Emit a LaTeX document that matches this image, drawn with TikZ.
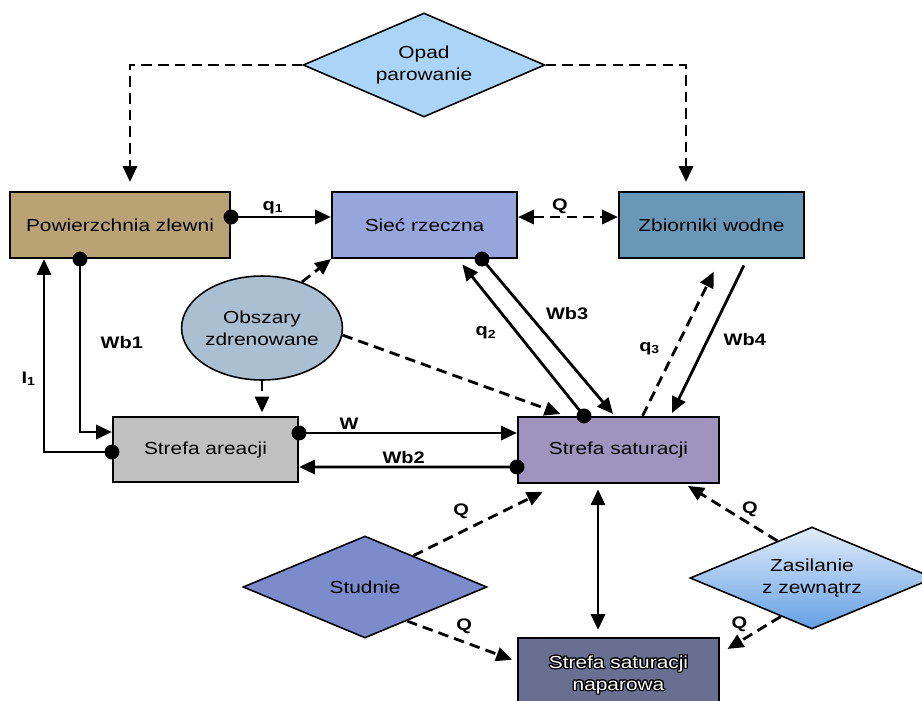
\documentclass[tikz,border=0pt]{standalone}
\usepackage{fontspec}
\setmainfont[FakeStretch=1.2]{Liberation Sans}
\usepackage{xcolor}
\usepackage{tikz}
\usepackage{contour}
\usetikzlibrary{positioning,arrows.meta,calc,shapes.geometric}
\definecolor{cPow}{RGB}{185,163,116}
\definecolor{cSiec}{RGB}{150,166,220}
\definecolor{cZb}{RGB}{104,151,184}
\definecolor{cArea}{RGB}{192,192,192}
\definecolor{cSat}{RGB}{158,148,190}
\definecolor{cNap}{RGB}{104,111,145}
\definecolor{cOpad}{RGB}{170,212,248}
\definecolor{cStud}{RGB}{124,139,204}
\definecolor{cObs}{RGB}{170,192,210}
\definecolor{cZasT}{RGB}{226,236,250}
\definecolor{cZasB}{RGB}{100,160,228}
\contourlength{0.7pt}
\tikzset{
  box/.style={rectangle, draw=black, line width=1.2pt, minimum height=1.32cm,
              align=center, inner sep=2pt, font=\fontsize{9.9}{12.5}\selectfont},
  src/.style={diamond, draw=black, line width=0.9pt, aspect=2.3, inner sep=0pt,
              minimum width=4.88cm, minimum height=2.04cm, align=center,
              font=\fontsize{9.9}{12.5}\selectfont},
  drain/.style={ellipse, draw=black, line width=0.9pt, fill=cObs, align=center,
                minimum width=2.84cm, minimum height=2.08cm, inner sep=0pt,
                font=\fontsize{9.9}{12.5}\selectfont},
  flow/.style={-{Triangle[length=9pt,width=8pt]}, line width=1.6pt},
  flowd/.style={flow, dash pattern=on 6pt off 3.5pt},
  biflow/.style={{Triangle[length=9pt,width=8pt]}-{Triangle[length=9pt,width=8pt]}, line width=1.6pt},
  biflowd/.style={biflow, dash pattern=on 6pt off 3.5pt},
  tap/.style={circle, fill=black, inner sep=0pt, minimum size=8.5pt},
  lbl/.style={font=\bfseries\fontsize{9.5}{11}\selectfont, inner sep=1pt},
}

\begin{document}
\begin{tikzpicture}[x=0.02cm, y=-0.02cm]
  \useasboundingbox (0,0) rectangle (922,700);
  % --- compartments ---
  \node[box, fill=cPow, minimum width=4.4cm]  (pow)  at (120,225)   {Powierzchnia zlewni};
  \node[box, fill=cSiec, minimum width=3.7cm] (siec) at (424.5,225) {Sieć rzeczna};
  \node[box, fill=cZb, minimum width=3.7cm]   (zb)   at (711.5,225) {Zbiorniki wodne};
  \node[box, fill=cArea, minimum width=3.7cm, minimum height=1.3cm] (area) at (205.5,449.5) {Strefa areacji};
  \node[box, fill=cSat, minimum width=4.02cm] (sat)  at (618.5,450) {Strefa saturacji};
  \node[box, fill=cNap, minimum width=4.02cm, minimum height=1.5cm, text=white] (nap) at (618.5,675.5)
    {\contour{black}{Strefa saturacji}\\\contour{black}{naparowa}};

  % --- sources ---
  \node[src, fill=cOpad, minimum width=4.84cm, minimum height=2.08cm] (opad) at (424,65) {Opad\\parowanie};
  \node[src, fill=cStud] (stud) at (365,587) {Studnie};
  \node[src, top color=cZasT, bottom color=cZasB] (zas) at (812,578) {Zasilanie\\z zewnątrz};
  \node[drain] (obs) at (262,328) {Obszary\\zdrenowane};

  % --- precipitation / evaporation ---
  \draw[flowd] (opad.west) -| ($(pow.north)+(10,-9)$);
  \draw[flowd] (opad.east) -| ($(zb.north)+(-25.5,-9)$);

  % --- surface and river network ---
  \draw[flow] ($(pow.east)+(0,-8)$) node[tap]{} -- node[lbl,above,pos=0.42]{q\textsubscript{1}} ($(siec.west)+(0,-8)$);
  \draw[biflowd] ($(siec.east)+(0,-8)$) -- node[lbl,above,pos=0.42]{Q} ($(zb.west)+(0,-8)$);
  \draw[flow] ($(pow.south)+(-40,0)$) node[tap]{} |- node[lbl,right=3.5mm,pos=0.24]{Wb1} ($(area.west)+(0,-17.5)$);
  \draw[flow] ($(area.west)+(0,2.5)$) node[tap]{} -| node[lbl,left=1mm,pos=0.69]{I\textsubscript{1}} ($(pow.south)+(-76,0)$);

  % --- drained areas ---
  \draw[flowd] (obs.49) -- (siec.south west);
  \draw[flowd, shorten >=2pt] (obs.south) -- (obs.south |- area.north);
  \draw[flowd] (obs.-5) -- ($(sat.north)+(-58,-2)$);

  % --- unsaturated / saturated zone ---
  \draw[flow] ($(area.east)+(0,-16.5)$) node[tap]{} -- node[lbl,above,pos=0.23]{W} ($(sat.west)+(0,-17)$);
  \draw[flow] ($(sat.west)+(0,17)$) node[tap]{} -- node[lbl,above,pos=0.52]{Wb2} ($(area.east)+(0,17.5)$);
  \draw[flow, shorten >=4pt] ($(sat.north)+(-34.5,0)$) node[tap]{} -- node[lbl,left=3.5mm,pos=0.53]{q\textsubscript{2}} ($(siec.south)+(33.5,0)$);
  \draw[flow] ($(siec.south)+(57.5,0)$) node[tap]{} -- node[lbl,right=3mm,pos=0.35]{Wb3} ($(sat.north)+(-5.5,-2)$);
  \draw[flowd, shorten >=8pt] ($(sat.north)+(24,0)$) -- node[lbl,left=2.5mm,pos=0.43]{q\textsubscript{3}} ($(zb.south)+(8.5,0)$);
  \draw[flow, shorten <=4pt] ($(zb.south)+(35.5,0)$) -- node[lbl,right=2.5mm,pos=0.52]{Wb4} ($(sat.north)+(53.5,-3)$);
  \draw[biflow, shorten <=3pt, shorten >=4pt] ($(sat.south)+(-20.5,0)$) -- ($(nap.north)+(-20.5,0)$);

  % --- wells and external recharge ---
  \draw[flowd, shorten >=10pt] (stud.33) -- node[lbl,above=2mm,pos=0.33]{Q} ($(sat.south)+(-60,0)$);
  \draw[flowd, shorten >=3pt] (stud.-39) -- node[lbl,above=1mm,pos=0.52]{Q} ($(nap.west)+(0,-14)$);
  \draw[flowd, shorten >=2pt] (zas.133) -- node[lbl,right=2.5mm,pos=0.55]{Q} ($(sat.south)+(66.5,0)$);
  \draw[flowd, shorten >=5pt] (zas.-129) -- node[lbl,above left=0mm,pos=0.5]{Q} ($(nap.east)+(0,-22)$);
\end{tikzpicture}
\end{document}
